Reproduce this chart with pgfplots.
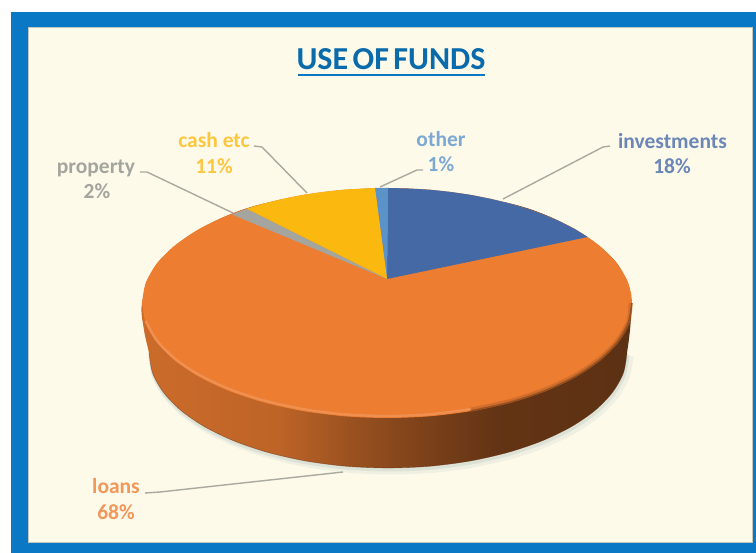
\documentclass[border=0pt]{standalone}
\usepackage{fontspec}
\setmainfont{Carlito}
\usepackage{pgfplots}
\usepackage{pgfplotstable}
\pgfplotsset{compat=1.18}

\definecolor{frame}{HTML}{0A78C4}
\definecolor{paper}{HTML}{FEFAEA}
\definecolor{edge}{HTML}{C4C8BC}
\definecolor{cloans}{HTML}{ED7D31}
\definecolor{cinv}{HTML}{4569A5}
\definecolor{cother}{HTML}{5B93C8}
\definecolor{ccash}{HTML}{FBB80F}
\definecolor{cprop}{HTML}{A5A5A0}
\definecolor{leader}{HTML}{A9A9A0}
\definecolor{shadow}{HTML}{DDE2D6}

% side of the disc, light on the left, dark on the right
\pgfdeclarehorizontalshading{sideshade}{100bp}{
  color(0bp)=(cloans!86!black);
  color(25bp)=(cloans!86!black);
  color(39bp)=(cloans!80!black);
  color(47bp)=(cloans!64!black);
  color(54bp)=(cloans!52!black);
  color(61bp)=(cloans!42!black);
  color(75bp)=(cloans!39!black);
  color(100bp)=(cloans!39!black)}

\pgfplotstableread{
x y
627 353
623.4 373
612.6 392.3
595 410.5
571.1 426.9
541.6 441.1
507.5 452.6
469.7 461.1
429.5 466.3
388 468
346.5 466.3
306.3 461.1
268.5 452.6
234.4 441.1
204.9 426.9
181 410.5
163.4 392.3
152.6 373
149 353
}\botrim

\begin{document}
\begin{tikzpicture}
\begin{axis}[
  scale only axis,
  width=756pt, height=553pt,
  xmin=0, xmax=756, ymin=0, ymax=553,
  y dir=reverse,
  hide axis,
]
% page, frame and paper
\addplot[fill=white, draw=none] coordinates {(0,0) (756,0) (756,553) (0,553)} -- cycle;
\addplot[fill=frame, draw=none] coordinates {(11,12) (756,12) (756,553) (11,553)} -- cycle;
\addplot[fill=paper, draw=edge, line width=1pt] coordinates {(28,28) (752,28) (752,543) (28,543)} -- cycle;

% shadow under the disc
\addplot[draw=shadow, line width=7pt, opacity=.4, smooth] table[x expr=\thisrow{x}+3, y expr=\thisrow{y}+3] {\botrim};
\addplot[draw=shadow, line width=3pt, smooth] table[x expr=\thisrow{x}+1, y expr=\thisrow{y}+2] {\botrim};

% side
\addplot[draw=none, shade, shading=sideshade, smooth] coordinates {
(632,303) (630,330) (627,353) (623.4,373) (612.6,392.3) (595,410.5) (571.1,426.9) (541.6,441.1)
(507.5,452.6) (469.7,461.1) (429.5,466.3) (388,468) (346.5,466.3) (306.3,461.1) (268.5,452.6)
(234.4,441.1) (204.9,426.9) (181,410.5) (163.4,392.3) (152.6,373) (149,353) (144,330) (142,303)
(156.8,263.7) (199.3,229.1) (264.5,203.4) (387,188) (509.5,203.4) (574.7,229.1) (617.2,263.7) (632,303)
} -- cycle;
\addplot[draw=cloans!38!black, line width=.6pt, opacity=.5, smooth] table {\botrim};

% top face: loans
\addplot[fill=cloans, draw=none, smooth] coordinates {
(142,303) (145.7,283) (156.8,263.7) (174.8,245.5) (199.3,229.1) (229.5,214.9) (264.5,203.4)
(303.2,194.9) (344.5,189.7) (387,188) (429.5,189.7) (470.8,194.9) (509.5,203.4) (544.5,214.9)
(574.7,229.1) (599.2,245.5) (617.2,263.7) (628.3,283) (632,303)
(628.3,323) (617.2,342.3) (599.2,360.5) (574.7,376.9) (544.5,391.1) (509.5,402.6) (470.8,411.1)
(429.5,416.3) (387,418) (344.5,416.3) (303.2,411.1) (264.5,402.6) (229.5,391.1) (199.3,376.9)
(174.8,360.5) (156.8,342.3) (145.7,323) (142,303)
} -- cycle;
% bevel on the rim
\addplot[draw=cloans!85!white, line width=2.4pt, smooth] coordinates {
(145.7,321) (156.8,340.3) (174.8,358.5) (199.3,374.9) (229.5,389.1) (264.5,400.6) (303.2,409.1)
(344.5,414.3) (387,416) (429.5,414.3) (470.8,409.1)};
\addplot[draw=cloans!80!black, line width=4pt, opacity=.6, smooth] coordinates {
(470.8,409.6) (509.5,401.1) (544.5,389.6) (574.7,375.4) (599.2,359) (617.2,340.8) (628.3,321.5) (630.6,303)};
\addplot[draw=cloans!65!black, line width=1.5pt, smooth] coordinates {
(470.8,410.8) (509.5,402.3) (544.5,390.8) (574.7,376.6) (599.2,360.2) (617.2,342) (628.3,322.7) (631.8,303)};

% investments
\addplot[fill=cinv, draw=none] coordinates {
(387,279) (388,188) (408.4,188.5) (429.5,189.7) (450.4,191.9) (470.8,194.9) (490.5,198.8) (509.5,203.4)
(527.5,208.8) (544.5,214.9) (560.2,221.7) (574.7,229.1) (587.7,237)
} -- cycle;
% other
\addplot[fill=cother, draw=none] coordinates {(387,279) (375,188) (381,188) (388,188)} -- cycle;
% cash etc
\addplot[fill=ccash, draw=none] coordinates {
(387,279) (375,188) (365.6,188.5) (344.5,189.7) (323.6,191.9) (303.2,194.9) (283.5,198.8) (264.5,203.4)
(246.5,208.8)
} -- cycle;
% property
\addplot[fill=cprop, draw=none] coordinates {(387,279) (246.5,208.8) (232,214.5)} -- cycle;

% leader lines
\addplot[draw=leader, line width=1.4pt] coordinates {(503,199) (603,147) (610,146)};
\addplot[draw=leader, line width=1.4pt] coordinates {(380,187) (417,170) (423,170)};
\addplot[draw=leader, line width=1.4pt] coordinates {(307,193) (262,147) (254,146)};
\addplot[draw=leader, line width=1.4pt] coordinates {(233,213) (147,172) (140,172)};
\addplot[draw=leader, line width=1.4pt] coordinates {(343,472) (160,492) (145,493)};

% title
\addplot[draw=frame, line width=2.5pt] coordinates {(298,75) (485,75)};
\node[font=\bfseries\fontsize{32}{34}\selectfont, text=frame!88!black, anchor=base, inner sep=0pt]
  at (axis cs:391,70) {USE\hspace{.14em}OF\hspace{.14em}FUNDS};

% labels
\tikzset{lab/.style={font=\bfseries\fontsize{21.5}{25}\selectfont, anchor=base, inner sep=0pt}}
\node[lab, text=cinv!80!white] at (axis cs:672.5,149) {investments};
\node[lab, text=cinv!80!white] at (axis cs:672,174) {18\%};
\node[lab, text=cother!80!white] at (axis cs:441,147) {other};
\node[lab, text=cother!80!white] at (axis cs:441,172) {1\%};
\node[lab, text=ccash!80!white] at (axis cs:214,148) {cash etc};
\node[lab, text=ccash!80!white] at (axis cs:214,174) {11\%};
\node[lab, text=cprop] at (axis cs:96,174) {property};
\node[lab, text=cprop] at (axis cs:97,199) {2\%};
\node[lab, text=cloans!80!white] at (axis cs:116,494) {loans};
\node[lab, text=cloans!80!white] at (axis cs:116,520) {68\%};
\end{axis}
\end{tikzpicture}
\end{document}
